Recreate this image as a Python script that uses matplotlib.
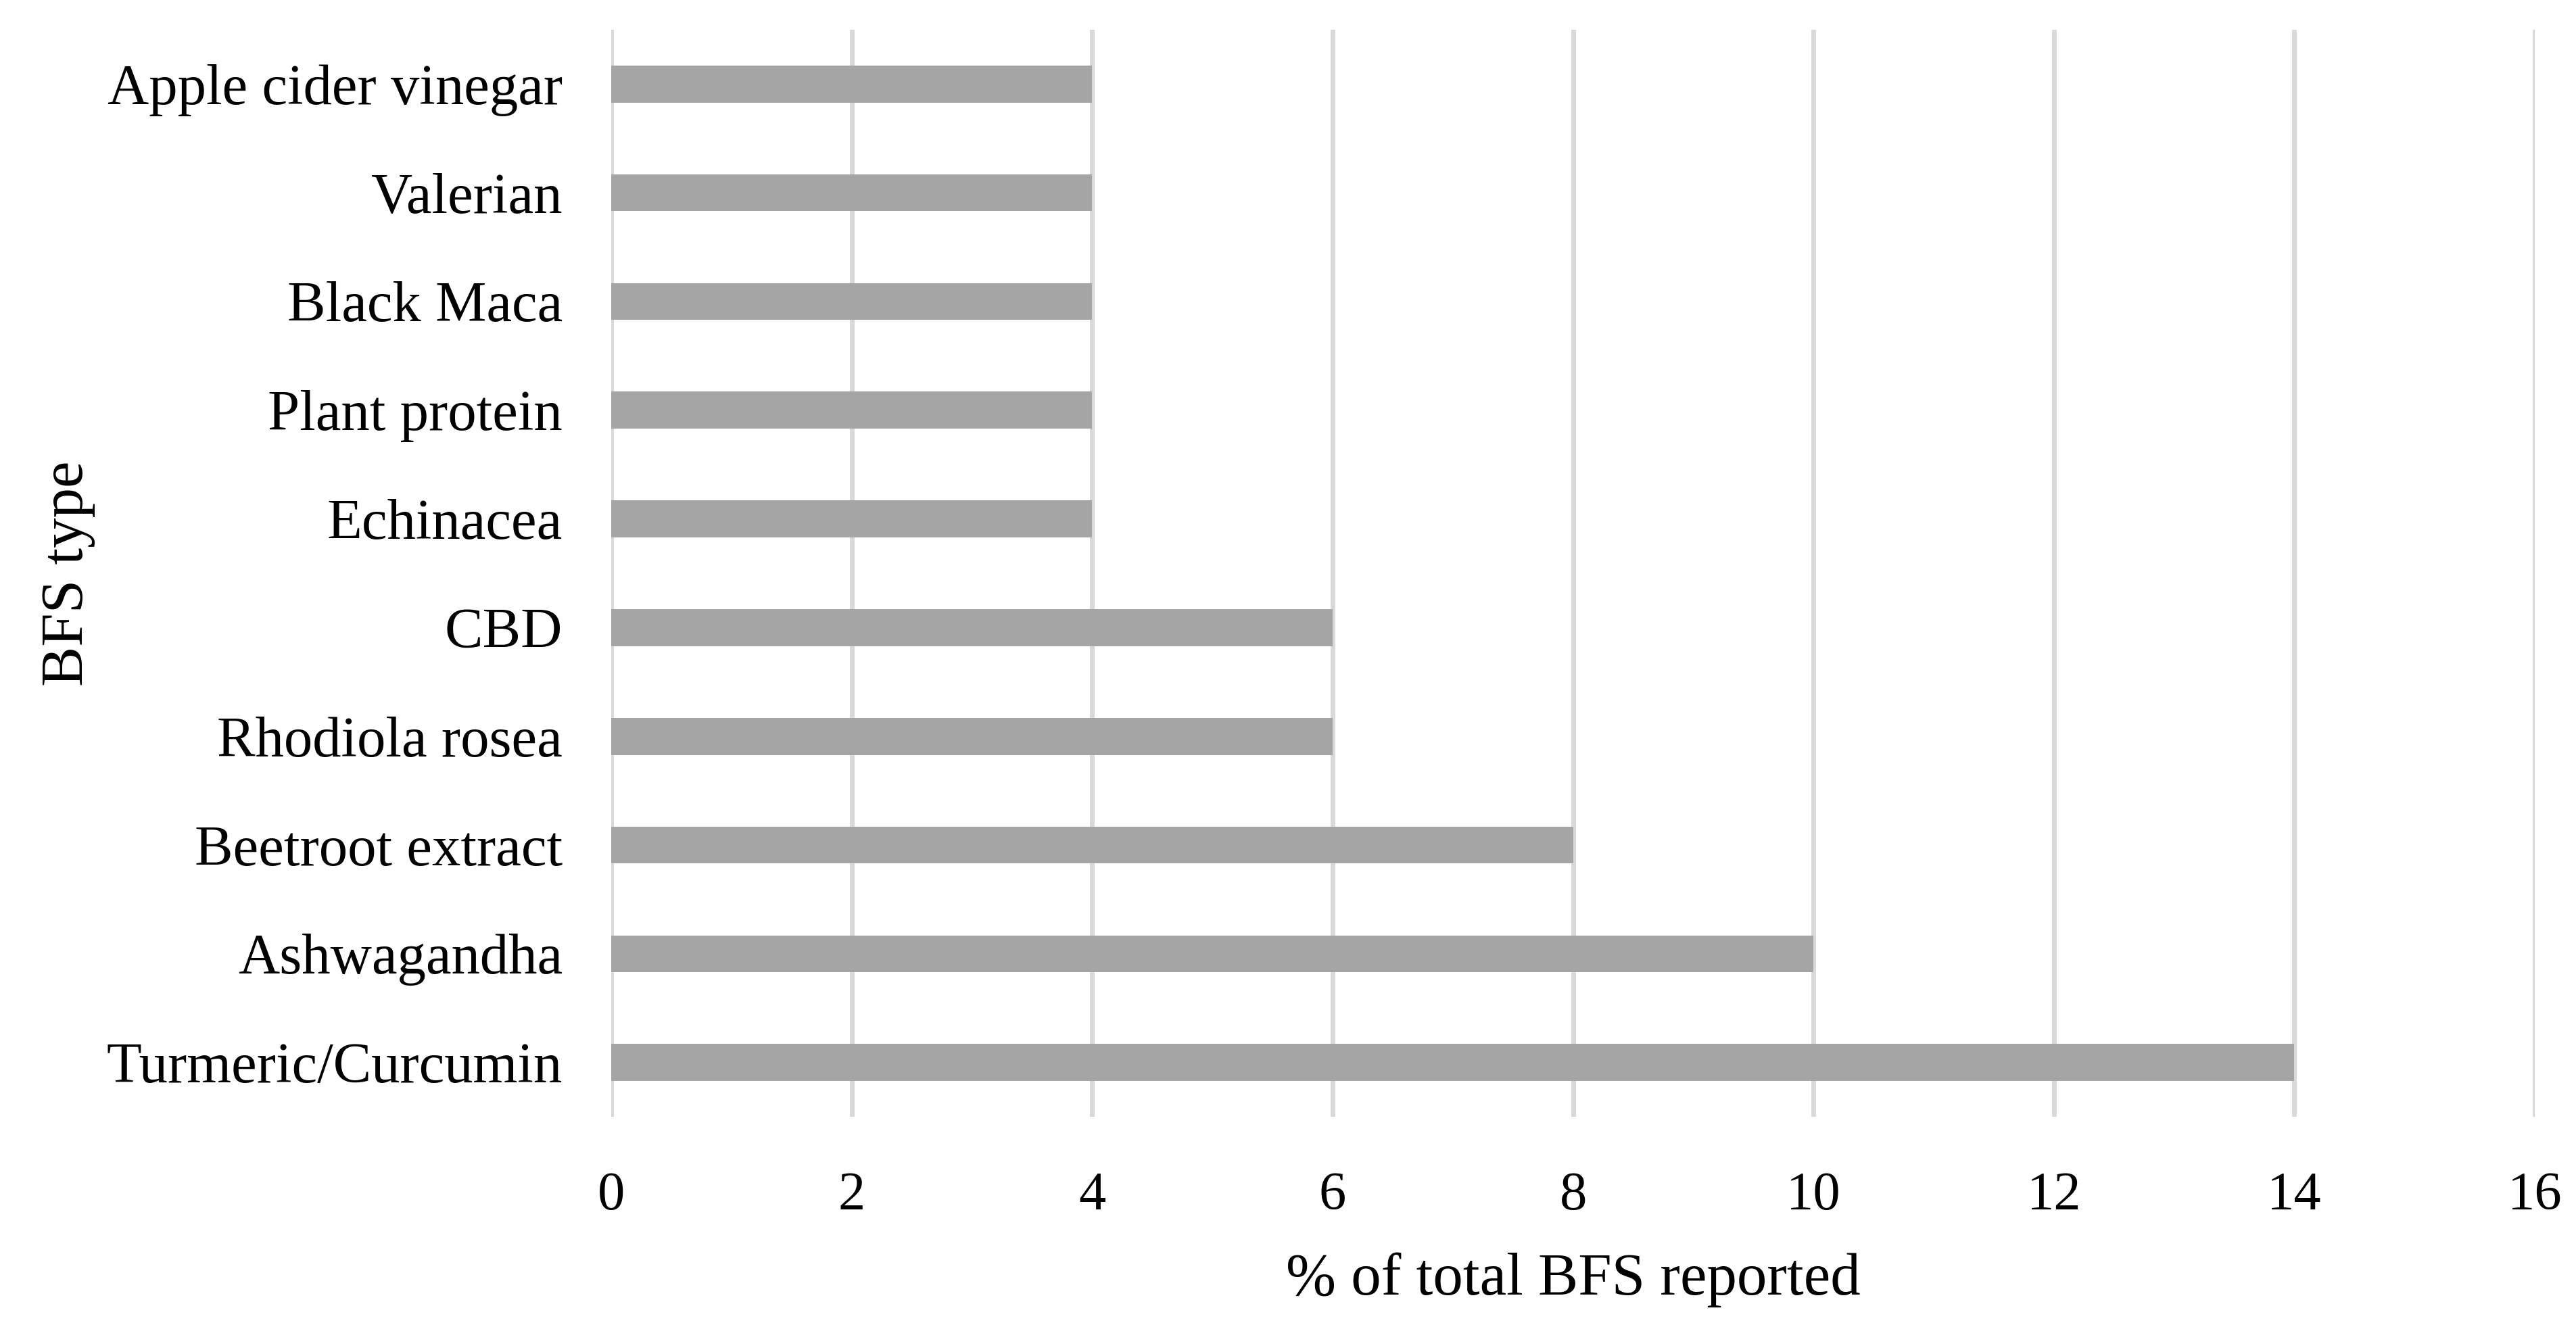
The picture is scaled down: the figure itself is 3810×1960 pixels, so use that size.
import matplotlib.pyplot as plt

categories = ["Turmeric/Curcumin", "Ashwagandha", "Beetroot extract", "Rhodiola rosea",
              "CBD", "Echinacea", "Plant protein", "Black Maca", "Valerian",
              "Apple cider vinegar"]
percent = [14, 10, 8, 6, 6, 4, 4, 4, 4, 4]
xticks = [0, 2, 4, 6, 8, 10, 12, 14, 16]

plt.rcParams['font.family'] = ['Liberation Serif', 'DejaVu Serif']

fig = plt.figure(figsize=(38.1, 19.6), dpi=100)
ax = fig.add_axes([0.2373, 0.1571, 0.7467, 0.8205])

ax.barh(range(len(categories)), percent, height=0.34, color='#A5A5A5', zorder=3)

ax.set_xlim(0, 16)
ax.set_ylim(-0.5, len(categories) - 0.5)
ax.set_xticks(xticks)
ax.set_xticklabels([str(t) for t in xticks])
ax.set_yticks(range(len(categories)))
ax.set_yticklabels(categories)

ax.grid(axis='x', color='#D9D9D9', linewidth=5, zorder=0)
for s in ax.spines.values():
    s.set_visible(False)
ax.tick_params(axis='both', length=0)
ax.tick_params(axis='x', labelsize=58, pad=58)
ax.tick_params(axis='y', labelsize=61, pad=52)

ax.set_xlabel("% of total BFS reported", fontsize=64, labelpad=34)
ax.set_ylabel("BFS type", fontsize=64, labelpad=12)

fig.savefig("out.png", dpi=100, facecolor='white')
